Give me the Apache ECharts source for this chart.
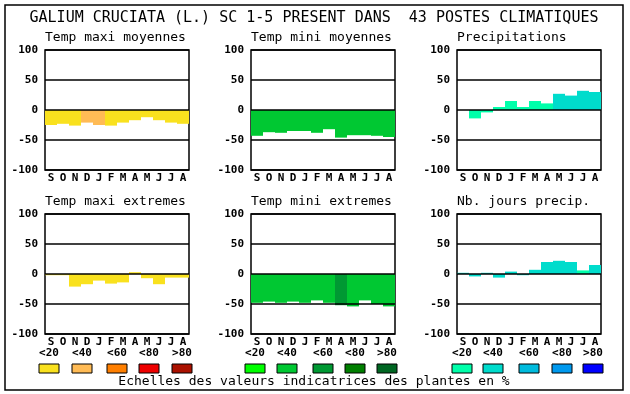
<!DOCTYPE html>
<html>
<head>
<meta charset="utf-8">
<script src="https://cdn.jsdelivr.net/npm/echarts@6/dist/echarts.min.js"></script>
<style>html,body{margin:0;padding:0;background:#fff}#c{width:630px;height:394px}</style>
</head>
<body>
<div id="c"></div>
<script>
// ---- data ----
const months = ['S','O','N','D','J','F','M','A','M','J','J','A'];
const yTicks = [-100, -50, 0, 50, 100];
const mainTitle = 'GALIUM CRUCIATA (L.) SC 1-5 PRESENT DANS  43 POSTES CLIMATIQUES';
const panelTitles = ['Temp maxi moyennes','Temp mini moyennes','Precipitations',
                     'Temp maxi extremes','Temp mini extremes','Nb. jours precip.'];
const classLabels = ['<20','<40','<60','<80','>80'];
const footer = 'Echelles des valeurs indicatrices des plantes en %';

// values
const tmaxMoy   = [-25,-23,-26,-21,-25,-26,-21,-17,-12,-17,-21,-23];
const tminMoy   = [-43,-37,-38,-35,-35,-38,-32,-46,-42,-42,-43,-45];
const precip    = [0,-14,-4,5,15,5,15,11,27,24,32,30];
const tmaxExt   = [-2,-2,-21,-17,-11,-16,-14,3,-7,-17,-6,-6];
const tminExt   = [-48,-46,-48,-46,-48,-44,-48,-52,-54,-44,-50,-54];
const nbJours   = [2,-4,2,-6,4,-2,7,20,22,20,6,15];

// indicator classes (0:<20 .. 4:>80)
const tmaxMoyCls = [0,0,0,1,1,0,0,0,0,0,0,0];
const tminMoyCls = [1,1,1,1,1,1,1,1,1,1,1,1];
const precipCls  = [0,0,0,0,0,0,0,0,1,1,1,1];
const tmaxExtCls = [0,0,0,0,0,0,0,0,0,0,0,0];
const tminExtCls = [1,1,1,1,1,1,1,2,1,1,1,1];
const nbJoursCls = [1,1,1,1,1,1,1,1,1,1,0,1];

// colour scales
const warm  = ['#f9e11e','#ffbb55','#ff7f00','#ee0000','#aa1100'];
const green = ['#00ff00','#00c832','#009933','#007f00','#006622'];
const blue  = ['#00ffaa','#00dccc','#00bbdd','#0099ee','#0000ff'];

const panels = [
  {vals:tmaxMoy, cls:tmaxMoyCls, pal:warm},
  {vals:tminMoy, cls:tminMoyCls, pal:green},
  {vals:precip,  cls:precipCls,  pal:blue},
  {vals:tmaxExt, cls:tmaxExtCls, pal:warm},
  {vals:tminExt, cls:tminExtCls, pal:green},
  {vals:nbJours, cls:nbJoursCls, pal:blue}
];
const palettes = [warm, green, blue];

// ---- layout ----
const FONT = 'DejaVu Sans Mono';
const colLeft = [45, 251, 457];
const rowTop = [50, 214];
const W = 144, H = 120;

const grids = [], xAxes = [], yAxes = [], series = [], graphics = [];

graphics.push({type:'rect', shape:{x:5,y:5,width:618,height:385},
  style:{fill:'none', stroke:'#000', lineWidth:1.5}, z:10});
graphics.push({type:'text', x:314, y:18, style:{text:mainTitle, font:'15px "'+FONT+'"',
  fill:'#000', textAlign:'center', textVerticalAlign:'middle'}});
graphics.push({type:'text', x:314, y:382, style:{text:footer, font:'13px "'+FONT+'"',
  fill:'#000', textAlign:'center', textVerticalAlign:'middle'}});

panels.forEach((p, i) => {
  const c = i % 3, r = Math.floor(i / 3);
  grids.push({left:colLeft[c], top:rowTop[r], width:W, height:H, show:true,
    borderColor:'#000', borderWidth:1.5, backgroundColor:'#fff'});
  xAxes.push({gridIndex:i, type:'category', data:months, boundaryGap:true,
    axisLine:{show:false}, axisTick:{show:false}, splitLine:{show:false},
    axisLabel:{interval:0, margin:3, color:'#000', fontFamily:FONT, fontWeight:'bold', fontSize:11}});
  yAxes.push({gridIndex:i, type:'value', min:yTicks[0], max:yTicks[yTicks.length-1], interval:50, z:5,
    axisLine:{show:false}, axisTick:{show:false},
    splitLine:{show:true, lineStyle:{color:'#000', width:1.5}},
    axisLabel:{margin:7, color:'#000', fontFamily:FONT, fontWeight:'bold', fontSize:11}});
  series.push({type:'bar', xAxisIndex:i, yAxisIndex:i, barCategoryGap:'0%', z:2,
    animation:false,
    data:p.vals.map((v, k) => ({value:v, itemStyle:{color:p.pal[p.cls[k]]}}))});
  graphics.push({type:'text', x:colLeft[c], y:rowTop[r]-12, style:{text:panelTitles[i],
    font:'13px "'+FONT+'"', fill:'#000', textAlign:'left', textVerticalAlign:'middle'}});
});

// legends: class labels + swatches, one group per column
const swatchX = [[39,72,107,139,172],[245,277,313,345,377],[452,483,519,552,583]];
palettes.forEach((pal, g) => {
  pal.forEach((col, k) => {
    const x = swatchX[g][k];
    graphics.push({type:'text', x:x+10, y:353, style:{text:classLabels[k],
      font:'bold 11px "'+FONT+'"', fill:'#000', textAlign:'center', textVerticalAlign:'middle'}});
    graphics.push({type:'rect', shape:{x:x, y:364, width:20, height:9},
      style:{fill:col, stroke:'#000', lineWidth:1}});
  });
});

const chart = echarts.init(document.getElementById('c'), null, {renderer:'canvas'});
chart.setOption({
  animation:false,
  backgroundColor:'#fff',
  grid:grids, xAxis:xAxes, yAxis:yAxes, series:series, graphic:graphics
});
</script>
</body>
</html>
